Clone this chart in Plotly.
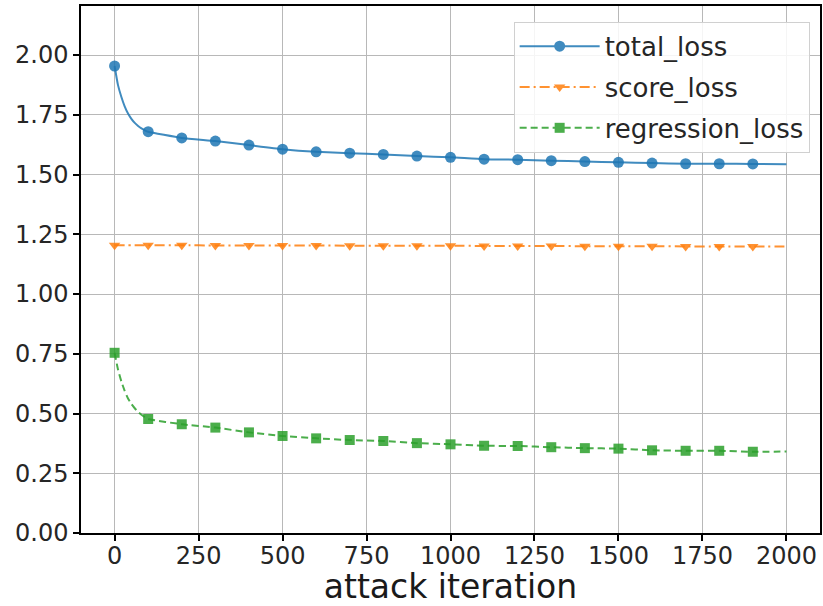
import plotly.graph_objects as go

# ---- data ----
iterations = [0, 10, 20, 30, 40, 50, 60, 70, 80, 90, 100,
              200, 300, 400, 500, 600, 700, 800, 900, 1000,
              1100, 1200, 1300, 1400, 1500, 1600, 1700, 1800, 1900, 2000]
total_loss = [1.954, 1.875, 1.825, 1.785, 1.755, 1.733, 1.716, 1.703, 1.693, 1.685, 1.679,
              1.653, 1.640, 1.623, 1.606, 1.595, 1.589, 1.584, 1.577, 1.572,
              1.564, 1.562, 1.558, 1.554, 1.551, 1.548, 1.545, 1.545, 1.544, 1.543]
score_loss = [1.204, 1.204, 1.204, 1.204, 1.204, 1.204, 1.204, 1.204, 1.204, 1.204, 1.204,
              1.204, 1.203, 1.203, 1.203, 1.203, 1.202, 1.202, 1.202, 1.202,
              1.201, 1.201, 1.201, 1.200, 1.200, 1.200, 1.199, 1.199, 1.199, 1.199]
regression_loss = [0.754, 0.685, 0.635, 0.595, 0.563, 0.540, 0.522, 0.507, 0.495, 0.485, 0.477,
                   0.455, 0.441, 0.421, 0.406, 0.396, 0.389, 0.385, 0.376, 0.371,
                   0.365, 0.364, 0.359, 0.355, 0.353, 0.346, 0.344, 0.344, 0.340, 0.341]
marker_iterations = [0, 100, 200, 300, 400, 500, 600, 700, 800, 900,
                     1000, 1100, 1200, 1300, 1400, 1500, 1600, 1700, 1800, 1900]
series_names = ["total_loss", "score_loss", "regression_loss"]
x_tick_values = [0, 250, 500, 750, 1000, 1250, 1500, 1750, 2000]
y_tick_values = [0.00, 0.25, 0.50, 0.75, 1.00, 1.25, 1.50, 1.75, 2.00]
x_label = "attack iteration"

# ---- styles ----
colors = ["#1f77b4", "#ff7f0e", "#2ca02c"]
dashes = ["solid", "10px,4px,2px,4px", "7px,4px"]
symbols = ["circle", "triangle-down", "square"]
msizes = [11, 10, 10]
FONT = "DejaVu Sans"

series = [total_loss, score_loss, regression_loss]

fig = go.Figure()
for name, vals, c, d, s, ms in zip(series_names, series, colors, dashes, symbols, msizes):
    lookup = dict(zip(iterations, vals))
    fig.add_trace(go.Scatter(
        x=iterations, y=vals, mode="lines", showlegend=False,
        line=dict(color=c, width=2, dash=d, shape="spline", smoothing=0.5),
        opacity=0.85, hoverinfo="skip"))
    fig.add_trace(go.Scatter(
        x=marker_iterations, y=[lookup[i] for i in marker_iterations],
        mode="markers", showlegend=False, name=name,
        marker=dict(color=c, symbol=s, size=ms, line=dict(width=0)),
        opacity=0.85))
    fig.add_trace(go.Scatter(
        x=[None], y=[None], mode="lines+markers", name=name, legendgroup=name,
        line=dict(color=c, width=2, dash=d),
        marker=dict(color=c, symbol=s, size=ms, line=dict(width=0)),
        opacity=0.85))

axis_common = dict(
    showline=True, linecolor="black", linewidth=1.5, mirror=True,
    showgrid=True, gridcolor="#b8b8b8", gridwidth=1.3,
    ticks="outside", ticklen=6, tickwidth=1.5, tickcolor="black",
    tickfont=dict(family=FONT, size=24, color="#262626"),
    zeroline=False,
)

fig.update_xaxes(range=[-100, 2100], tickvals=x_tick_values,
                 ticktext=[str(v) for v in x_tick_values],
                 ticklabelstandoff=-6,
                 title=dict(text=x_label, font=dict(family=FONT, size=33, color="#1a1a1a"), standoff=9),
                 **axis_common)
fig.update_yaxes(range=[0, 2.205], tickvals=y_tick_values,
                 ticktext=[f"{v:.2f}" for v in y_tick_values],
                 **axis_common)

fig.update_layout(
    width=823, height=606,
    margin=dict(l=81, r=1, t=6, b=73),
    plot_bgcolor="white", paper_bgcolor="white",
    font=dict(family=FONT, color="#262626"),
    legend=dict(
        x=0.986, y=0.970, xanchor="right", yanchor="top",
        bgcolor="rgba(255,255,255,0.85)", bordercolor="#d0d0d0", borderwidth=1,
        font=dict(family=FONT, size=26, color="#262626"),
        traceorder="grouped", tracegroupgap=4, itemwidth=80,
    ),
)

fig.write_html("out.html", config={"displayModeBar": False},
               post_script="document.body.style.margin='0px';")
